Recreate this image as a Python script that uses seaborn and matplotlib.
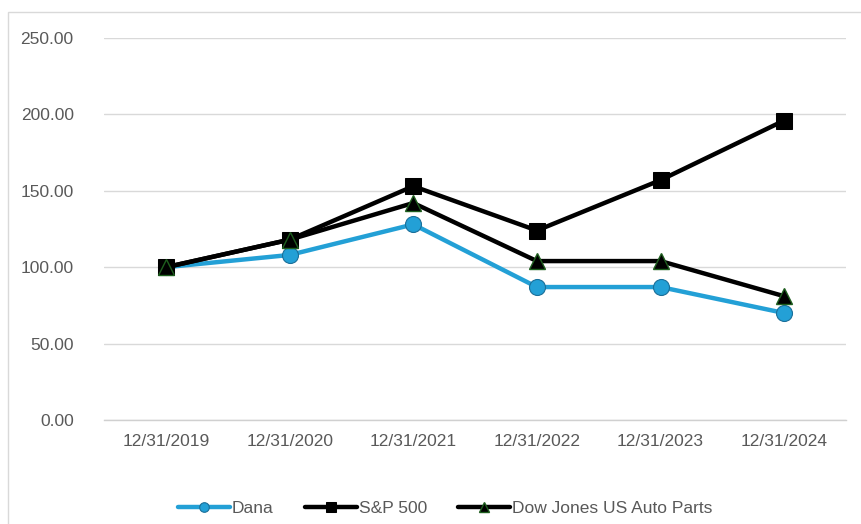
import matplotlib
matplotlib.use("Agg")
import matplotlib.pyplot as plt
import seaborn as sns
import pandas as pd
from matplotlib.patches import Rectangle

categories = ["12/31/2019", "12/31/2020", "12/31/2021", "12/31/2022", "12/31/2023", "12/31/2024"]
dana = [100, 108, 128, 87, 87, 70]
sp500 = [100, 118, 153, 124, 157, 196]
dj_auto = [100, 118, 142, 104, 104, 81]
yticks = [0, 50, 100, 150, 200, 250]

sns.set_theme(style="white")
plt.rcParams['font.family'] = ['Liberation Sans Narrow', 'Liberation Sans', 'DejaVu Sans']

fig = plt.figure(figsize=(8.61, 5.24), dpi=100)
ax = fig.add_axes([0.121, 0.1985, 0.8616, 0.729])

# figure border
fig.patches.append(Rectangle((0.009, -0.01), 1.2, 0.987, transform=fig.transFigure,
                             fill=False, edgecolor="#d9d9d9", linewidth=1.0))

pos = list(range(len(categories)))
df = pd.DataFrame({"pos": pos, "Dana": dana, "S&P 500": sp500,
                   "Dow Jones US Auto Parts": dj_auto})

sns.lineplot(data=df, x="pos", y="Dana", ax=ax, color="#23a0d6", linewidth=3.2,
             marker="o", markersize=11.5, markerfacecolor="#23a0d6",
             markeredgecolor="#1a6f99", markeredgewidth=0.8, label="Dana", zorder=3)
sns.lineplot(data=df, x="pos", y="S&P 500", ax=ax, color="black", linewidth=3.2,
             marker="s", markersize=12, markerfacecolor="black",
             markeredgecolor="black", label="S&P 500", zorder=4)
sns.lineplot(data=df, x="pos", y="Dow Jones US Auto Parts", ax=ax, color="black",
             linewidth=3.2, marker="^", markersize=12, markerfacecolor="black",
             markeredgecolor="#1e5e1e", markeredgewidth=1.0,
             label="Dow Jones US Auto Parts", zorder=5)

ax.set_xlim(-0.5, len(categories) - 0.5)
ax.set_ylim(0, 250)
ax.set_yticks(yticks)
ax.set_yticklabels([f"{v:.2f}" for v in yticks])
ax.set_xticks(pos)
ax.set_xticklabels(categories)
ax.set_xlabel("")
ax.set_ylabel("")
ax.grid(axis="y", color="#d9d9d9", linewidth=1.0)
ax.set_axisbelow(True)
for s in ["top", "right", "left"]:
    ax.spines[s].set_visible(False)
ax.spines["bottom"].set_color("#d0d0d0")
ax.spines["bottom"].set_linewidth(1.0)
ax.tick_params(axis="both", colors="#595959", labelsize=12.5, length=0, pad=10)
ax.tick_params(axis="y", pad=22)
# category separator ticks
ax.set_xticks([p - 0.5 for p in pos] + [len(pos) - 0.5], minor=True)
ax.tick_params(axis="x", which="minor", length=5, color="#d0d0d0", width=1)

leg = ax.legend(loc="upper center", bbox_to_anchor=(0.46, -0.17), ncol=3, frameon=False,
                fontsize=12.5, handlelength=3.0, handletextpad=0.1, columnspacing=1.8,
                markerscale=0.6)
for t in leg.get_texts():
    t.set_color("#595959")

fig.savefig("out.png", dpi=100)
